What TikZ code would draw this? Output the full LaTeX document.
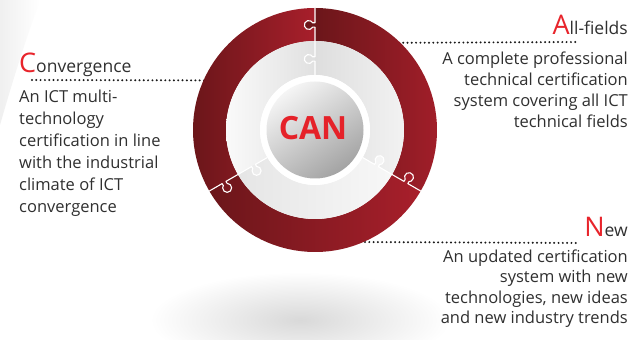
\documentclass[tikz,border=0pt]{standalone}
\usepackage{fontspec}
\setmainfont{Open Sans}
\usetikzlibrary{calc}
\definecolor{ringdark}{HTML}{6B161A}
\definecolor{ringbright}{HTML}{A81F2B}
\definecolor{initred}{HTML}{E8242B}
\definecolor{bodytext}{HTML}{303030}
\definecolor{dotcol}{HTML}{1A1A1A}
\definecolor{canred}{HTML}{E52229}
% knob outline in polar terms: #1 angle, #2 radius
\newcommand{\knobpart}[2]{($(C)+(#1:#2-2.2)$) -- ($(C)+(#1:#2-2.2)+(#1+90:2.27)$) arc[start angle=#1+240.74, end angle=#1-60.74, radius=4.5] -- ($(C)+(#1:#2+2.2)$)}
\newcommand{\wedgepath}[4]{($(C)+(#1:#3)$) arc[start angle=#1, end angle=#2, radius=#3] -- ($(C)+(#2:#4)$) arc[start angle=#2, end angle=#1, radius=#4] -- cycle}
\tikzset{
  bodyfont/.style={font=\fontsize{16.5}{#1}\selectfont, text=bodytext, inner sep=0pt},
  titlefont/.style={font=\fontsize{17.5}{20}\selectfont, text=bodytext, inner sep=0pt},
  dotline/.style={draw=dotcol, line width=2.2pt, line cap=round, dash pattern=on 0pt off 4.3pt},
  divline/.style={draw=white, line width=1.1pt, line join=round},
}
\newcommand{\initial}[1]{{\fontsize{27}{27}\selectfont\color{initred}#1}}
\begin{document}
\begin{tikzpicture}[x=1pt,y=1pt]
\useasboundingbox (0,0) rectangle (633,340);
\fill[white] (0,0) rectangle (633,340);
\coordinate (C) at (315,210);
% faint background
\shade[left color=black!6, right color=white] (0,340) -- (40,340) .. controls (22,290) and (10,250) .. (0,215) -- cycle;
% shadow
\begin{scope}
\clip (0,0) rectangle (633,340);
\shade[inner color=black!15, outer color=white] (300,20) ellipse (150 and 48);
\end{scope}
% dotted connectors
\coordinate (cl) at (32,260);
\coordinate (ca) at (578,298);
\coordinate (cn) at (580,97);
\draw[dotline] (cl) -- ($(C)+(155.8:121)$);
\draw[dotline] ($(C)+(46.1:121)$) -- (ca);
\draw[dotline] ($(C)+(-67.8:121)$) -- (cn);
% outer red ring
\shade[left color=ringdark, right color=ringbright] \wedgepath{-30}{90}{122}{89};
\shade[left color=ringdark, right color=ringbright] \wedgepath{90}{210}{122}{89};
\shade[left color=ringdark, right color=ringbright] \wedgepath{210}{330}{122}{89};
% light ring
\shade[left color=black!13, right color=black!4] \wedgepath{-30}{90}{89}{55};
\shade[left color=black!2, right color=black!12] \wedgepath{90}{210}{89}{55};
\shade[left color=black!10, right color=black!3] \wedgepath{210}{330}{89}{55};
% knobs
\fill[ringdark] \knobpart{90}{105} -- cycle;
\fill[ringbright!25!ringdark] \knobpart{210}{105} -- cycle;
\fill[ringbright!92!ringdark] \knobpart{330}{105} -- cycle;
\fill[black!12] \knobpart{90}{71} -- cycle;
\fill[black!7] \knobpart{210}{71} -- cycle;
\fill[black!4] \knobpart{330}{71} -- cycle;
% division lines
\foreach \a in {90,210,330}{
  \draw[divline] ($(C)+(\a:55)$) -- \knobpart{\a}{71} -- \knobpart{\a}{105} -- ($(C)+(\a:122.5)$);
}
% centre
\fill[white] (C) circle (55);
\shade[top color=black!4, bottom color=black!36, shading angle=35] (C) circle (48.5);
\node[font=\fontsize{32}{32}\selectfont\bfseries, text=canred, inner sep=0pt] (can) at (313,211.5) {CAN};
% labels
\node[titlefont, anchor=base west] (tconv) at (19,267) {\initial{C}onvergence};
\node[bodyfont=22, anchor=base west, align=left] (bconv) at (19,127) {An ICT multi-\\technology\\certification in line\\with the industrial\\climate of ICT\\convergence};
\node[titlefont, anchor=base east] (tall) at (628,305) {\initial{A}ll-fields};
\node[bodyfont=21, anchor=base east, align=right] (ball) at (628,212) {A complete professional\\technical certification\\system covering all ICT\\technical fields};
\node[titlefont, anchor=base east] (tnew) at (628,103) {\initial{N}ew};
\node[bodyfont=20.5, anchor=base east, align=right] (bnew) at (628,16) {An updated certification\\system with new\\technologies, new ideas\\and new industry trends};
\end{tikzpicture}
\end{document}
